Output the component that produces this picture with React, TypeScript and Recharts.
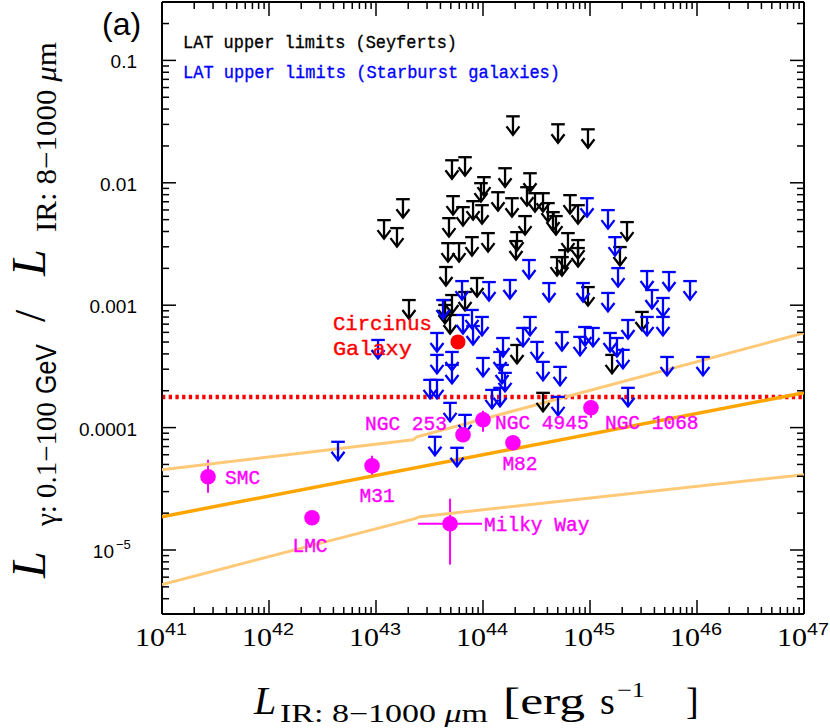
import React from 'react';
import { ScatterChart, Scatter, XAxis, YAxis, ReferenceLine, ErrorBar } from 'recharts';

const W = 830;
const H = 728;

// ---- axes ----
const xDomain: [number, number] = [1e41, 1e47];
const yDomain: [number, number] = [3e-6, 0.3];
const xDecades = [41, 42, 43, 44, 45, 46];
const yDecades = [-6, -5, -4, -3, -2, -1];
const minorSteps = [1, 2, 3, 4, 5, 6, 7, 8, 9];
const yMajorLabels: Record<string, string> = { '-1': '0.1', '-2': '0.01', '-3': '0.001', '-4': '0.0001' };

// ---- LAT upper limits: [log10 L_IR, log10 ratio] ----
const seyferts: [number, number][] = [
  [44.280, -1.457], [44.701, -1.522], [44.981, -1.563], [43.710, -1.816], [43.832, -1.791],
  [44.206, -1.881], [44.439, -1.922], [44.009, -1.954], [43.981, -2.003], [44.411, -2.036],
  [43.252, -2.134], [43.720, -2.109], [43.907, -2.150], [43.813, -2.199], [43.991, -2.183],
  [44.140, -2.077], [44.271, -2.126], [44.486, -2.085], [44.561, -2.085], [44.607, -2.166],
  [44.654, -2.240], [44.682, -2.272], [44.813, -2.101], [44.888, -2.183], [45.346, -2.321],
  [43.075, -2.305], [43.196, -2.370], [43.682, -2.289], [43.673, -2.493], [43.776, -2.493],
  [43.897, -2.444], [44.047, -2.411], [44.318, -2.403], [44.308, -2.476], [44.393, -2.272],
  [44.794, -2.411], [44.888, -2.468], [44.888, -2.533], [44.766, -2.550], [44.692, -2.607],
  [44.738, -2.607], [45.280, -2.525], [43.654, -2.688], [43.944, -2.778], [44.981, -2.852],
  [43.308, -2.958], [43.645, -2.958], [43.710, -2.917], [43.832, -2.892], [43.692, -3.080],
  [43.645, -2.998], [44.318, -3.325], [45.486, -3.055], [45.206, -3.406], [44.561, -3.716],
];

const starbursts: [number, number][] = [
  [44.972, -2.126], [45.168, -2.223], [45.234, -2.444], [45.262, -2.697], [45.533, -2.721],
  [45.738, -2.729], [45.935, -2.803], [44.430, -2.631], [43.804, -2.803], [44.056, -2.811],
  [44.252, -2.794], [44.617, -2.819], [44.935, -2.819], [45.168, -2.900], [45.579, -2.876],
  [45.682, -2.941], [45.682, -3.096], [45.533, -3.096], [45.355, -3.121], [44.439, -3.096],
  [44.374, -3.186], [44.738, -3.219], [44.907, -3.259], [44.953, -3.178], [45.028, -3.186],
  [45.187, -3.227], [45.252, -3.268], [45.308, -3.365], [44.505, -3.300], [44.561, -3.463],
  [44.720, -3.504], [45.720, -3.423], [46.056, -3.423], [44.701, -3.749], [45.355, -3.675],
  [43.626, -2.958], [43.813, -3.080], [43.897, -3.039], [43.991, -3.096], [43.907, -3.170],
  [43.570, -3.227], [43.019, -3.284], [43.710, -3.382], [43.570, -3.406], [43.710, -3.488],
  [44.000, -3.431], [44.187, -3.268], [44.159, -3.382], [44.178, -3.488], [44.206, -3.553],
  [43.505, -3.610], [43.570, -3.610], [44.084, -3.692], [44.159, -3.675], [43.692, -3.798],
  [43.832, -3.896], [43.551, -4.075], [43.757, -4.165], [42.645, -4.116],
];

// ---- detected galaxies (log10 values) ----
const galaxyNames = ['SMC', 'LMC', 'M31', 'Milky Way', 'NGC 253', 'NGC 4945', 'M82', 'NGC 1068'];
const galaxyLogL = [41.430, 42.402, 42.963, 43.692, 43.813, 44.000, 44.280, 45.009];
const galaxyLogR = [-4.401, -4.736, -4.312, -4.785, -4.059, -3.936, -4.124, -3.838];
const galaxyLogRLow = [-4.532, -4.736, -4.409, -5.119, -4.059, -4.034, -4.124, -3.920];
const galaxyLogRHigh = [-4.263, -4.736, -4.230, -4.581, -4.059, -3.863, -4.124, -3.773];
const galaxyLogLLow = [41.430, 42.402, 42.963, 43.393, 43.813, 44.000, 44.280, 45.009];
const galaxyLogLHigh = [41.430, 42.402, 42.963, 43.991, 43.813, 44.000, 44.280, 45.009];

const circinus = { name: 'Circinus Galaxy', logL: 43.766, logR: -3.300 };

// ---- model lines (log10 values) ----
const calorimetricLine: [number, number][] = [[41, -4.728], [47, -3.716]];
const upperBandLine: [number, number][] = [[41, -4.344], [43.346, -4.100], [43.383, -4.075], [47, -3.227]];
const lowerBandLine: [number, number][] = [[41, -5.282], [43.364, -4.744], [43.411, -4.728], [47, -4.385]];
const thresholdLogR = -3.749;

// ---- label placement (relative to point, px) ----
const labelOffsets: Record<string, { dx: number; dy: number; anchor: 'start' | 'middle' | 'end' }> = {
  'SMC': { dx: 17, dy: 7, anchor: 'start' },
  'LMC': { dx: -2, dy: 34, anchor: 'middle' },
  'M31': { dx: 5, dy: 36, anchor: 'middle' },
  'Milky Way': { dx: 34, dy: 7, anchor: 'start' },
  'NGC 253': { dx: -16, dy: -5, anchor: 'end' },
  'NGC 4945': { dx: 12, dy: 9, anchor: 'start' },
  'M82': { dx: 7, dy: 27, anchor: 'middle' },
  'NGC 1068': { dx: 14, dy: 21, anchor: 'start' },
};

// ---- derived ----
const pow = (v: number) => Math.pow(10, v);
const toPts = (arr: [number, number][]) => arr.map(([a, b]) => ({ x: pow(a), y: pow(b) }));
const seyfertData = toPts(seyferts);
const starburstData = toPts(starbursts);
const galaxyData = galaxyNames.map((name, i) => {
  const x = pow(galaxyLogL[i]);
  const y = pow(galaxyLogR[i]);
  return {
    name,
    x,
    y,
    ey: [y - pow(galaxyLogRLow[i]), pow(galaxyLogRHigh[i]) - y],
    ex: [x - pow(galaxyLogLLow[i]), pow(galaxyLogLHigh[i]) - x],
  };
});
const circinusData = [{ name: circinus.name, x: pow(circinus.logL), y: pow(circinus.logR) }];

const xTicks: number[] = [];
xDecades.forEach((e) => minorSteps.forEach((k) => xTicks.push(k * Math.pow(10, e))));
xTicks.push(1e47);
const yTicks: number[] = [];
yDecades.forEach((e) =>
  minorSteps.forEach((k) => {
    const v = k * Math.pow(10, e);
    if (v >= 2.9999e-6 && v <= 0.30001) yTicks.push(v);
  })
);

const isMajor = (v: number) => {
  const lg = Math.log10(v);
  return Math.abs(lg - Math.round(lg)) < 1e-6;
};

const SERIF = 'Liberation Serif, DejaVu Serif, serif';
const SANS = 'Liberation Sans, Arial, sans-serif';
const MONO = 'Liberation Mono, DejaVu Sans Mono, monospace';

function BottomTick(props: any) {
  const { x, y, payload } = props;
  const v = payload.value;
  const major = isMajor(v);
  return (
    <g>
      <line x1={x} y1={y} x2={x} y2={y - (major ? 14 : 7)} stroke="#000" strokeWidth={1.5} />
      {major && (
        <>
          <text x={x - 27} y={y + 32} fontFamily={SERIF} fontSize={26} textLength={30} lengthAdjust="spacingAndGlyphs" fill="#000">10</text>
          <text x={x + 3} y={y + 21} fontFamily={SANS} fontSize={16} textLength={22} lengthAdjust="spacingAndGlyphs" fill="#000">{Math.round(Math.log10(v))}</text>
        </>
      )}
    </g>
  );
}

function TopTick(props: any) {
  const { x, y, payload } = props;
  const major = isMajor(payload.value);
  return <line x1={x} y1={y} x2={x} y2={y + (major ? 14 : 7)} stroke="#000" strokeWidth={1.5} />;
}

function LeftTick(props: any) {
  const { x, y, payload } = props;
  const v = payload.value;
  const major = isMajor(v);
  const e = Math.round(Math.log10(v));
  let label: React.ReactNode = null;
  if (major) {
    if (yMajorLabels[String(e)]) {
      label = (
        <text x={x - 25} y={y + 8} textAnchor="end" fontFamily={SANS} fontSize={19} fill="#000">{yMajorLabels[String(e)]}</text>
      );
    } else {
      label = (
        <>
          <text x={x - 48} y={y + 8} textAnchor="end" fontFamily={SANS} fontSize={19} fill="#000">10</text>
          <text x={x - 46} y={y - 1} textAnchor="start" fontFamily={SANS} fontSize={13} fill="#000">{'\u2212' + String(-e)}</text>
        </>
      );
    }
  }
  return (
    <g>
      <line x1={x} y1={y} x2={x + (major ? 14 : 7)} y2={y} stroke="#000" strokeWidth={1.5} />
      {label}
    </g>
  );
}

function RightTick(props: any) {
  const { x, y, payload } = props;
  const major = isMajor(payload.value);
  return <line x1={x} y1={y} x2={x - (major ? 14 : 7)} y2={y} stroke="#000" strokeWidth={1.5} />;
}

const makeArrow = (color: string) => (props: any) => {
  const { cx, cy } = props;
  if (cx == null || cy == null) return <g />;
  return (
    <g stroke={color} strokeWidth={2.3} fill="none" strokeLinecap="butt">
      <line x1={cx - 6.8} y1={cy} x2={cx + 6.8} y2={cy} />
      <line x1={cx} y1={cy} x2={cx} y2={cy + 18.5} />
      <polyline points={`${cx - 6.5},${cy + 10} ${cx},${cy + 18.5} ${cx + 6.5},${cy + 10}`} />
    </g>
  );
};
const SeyfertArrow = makeArrow('#000000');
const StarburstArrow = makeArrow('#0000ff');

function GalaxyDot(props: any) {
  const { cx, cy, payload } = props;
  const o = labelOffsets[payload.name];
  return (
    <g>
      <circle cx={cx} cy={cy} r={7.8} fill="#ff00ff" />
      <text x={cx + o.dx} y={cy + o.dy} textAnchor={o.anchor} fontFamily={MONO} fontSize={19.5} fill="#ff00ff" stroke="#ff00ff" strokeWidth={0.4}>{payload.name}</text>
    </g>
  );
}

function CircinusDot(props: any) {
  const { cx, cy } = props;
  return (
    <g>
      <circle cx={cx} cy={cy} r={7.5} fill="#ff0000" />
      <text x={cx - 125} y={cy - 12} fontFamily={MONO} fontSize={21} textLength={99} lengthAdjust="spacingAndGlyphs" fill="#ff0000" stroke="#ff0000" strokeWidth={0.4}>Circinus</text>
      <text x={cx - 125} y={cy + 13} fontFamily={MONO} fontSize={21} textLength={79} lengthAdjust="spacingAndGlyphs" fill="#ff0000" stroke="#ff0000" strokeWidth={0.4}>Galaxy</text>
    </g>
  );
}

const NoShape = () => <g />;

export default function App() {
  const common = { xAxisId: 'b', yAxisId: 'l', isAnimationActive: false } as const;
  return (
    <div style={{ position: 'relative', width: W, height: H, background: '#fff' }}>
      <style>{'body{margin:0;background:#fff}'}</style>
      <ScatterChart width={W} height={H} margin={{ top: 0, right: 0, bottom: 0, left: 0 }}>
        <XAxis
          xAxisId="b" type="number" dataKey="x" scale="log" domain={xDomain} allowDataOverflow
          ticks={xTicks} interval={0} tick={BottomTick} tickLine={false} tickSize={0} tickMargin={0}
          height={114} axisLine={{ stroke: '#000', strokeWidth: 2 }}
        />
        <XAxis
          xAxisId="t" orientation="top" type="number" dataKey="x" scale="log" domain={xDomain} allowDataOverflow
          ticks={xTicks} interval={0} tick={TopTick} tickLine={false} tickSize={0} tickMargin={0}
          height={2} axisLine={{ stroke: '#000', strokeWidth: 2 }}
        />
        <YAxis
          yAxisId="l" type="number" dataKey="y" scale="log" domain={yDomain} allowDataOverflow
          ticks={yTicks} interval={0} tick={LeftTick} tickLine={false} tickSize={0} tickMargin={0}
          width={162} axisLine={{ stroke: '#000', strokeWidth: 2 }}
        />
        <YAxis
          yAxisId="r" orientation="right" type="number" dataKey="y" scale="log" domain={yDomain} allowDataOverflow
          ticks={yTicks} interval={0} tick={RightTick} tickLine={false} tickSize={0} tickMargin={0}
          width={26} axisLine={{ stroke: '#000', strokeWidth: 2 }}
        />
        <Scatter xAxisId="t" yAxisId="r" data={[{ x: 1e44, y: 1e-3 }]} shape={NoShape} isAnimationActive={false} />

        <Scatter {...common} data={toPts(upperBandLine)} shape={NoShape} line={{ stroke: '#ffc978', strokeWidth: 3 }} stroke="#ffc978" lineType="joint" />
        <Scatter {...common} data={toPts(lowerBandLine)} shape={NoShape} line={{ stroke: '#ffc978', strokeWidth: 3 }} stroke="#ffc978" lineType="joint" />
        <Scatter {...common} data={toPts(calorimetricLine)} shape={NoShape} line={{ stroke: '#ffa500', strokeWidth: 3.5 }} stroke="#ffa500" lineType="joint" />

        <Scatter {...common} data={seyfertData} shape={SeyfertArrow} />
        <Scatter {...common} data={starburstData} shape={StarburstArrow} />

        <ReferenceLine xAxisId="b" yAxisId="l" y={pow(thresholdLogR)} stroke="#ff0000" strokeWidth={4.5} strokeDasharray="3.3 3.4" />

        <Scatter {...common} data={galaxyData} shape={GalaxyDot}>
          <ErrorBar dataKey="ey" direction="y" width={0} stroke="#ff00ff" strokeWidth={2} />
          <ErrorBar dataKey="ex" direction="x" width={0} stroke="#ff00ff" strokeWidth={2} />
        </Scatter>
        <Scatter {...common} data={circinusData} shape={CircinusDot} />
      </ScatterChart>

      <svg width={W} height={H} style={{ position: 'absolute', left: 0, top: 0, pointerEvents: 'none' }}>
        <text x={102} y={35} fontFamily={SANS} fontSize={32} fill="#000">(a)</text>
        <text x={183} y={48} fontFamily={MONO} fontSize={19} textLength={274} lengthAdjust="spacingAndGlyphs" fill="#000" stroke="#000" strokeWidth={0.35}>LAT upper limits (Seyferts)</text>
        <text x={183} y={78} fontFamily={MONO} fontSize={19} textLength={377} lengthAdjust="spacingAndGlyphs" fill="#0000ff" stroke="#0000ff" strokeWidth={0.35}>LAT upper limits (Starburst galaxies)</text>

        {/* x-axis title */}
        <text x={254} y={714} fontFamily={SERIF} fontStyle="italic" fontSize={40} fill="#000">L</text>
        <text x={280} y={722} fontFamily={SERIF} fontSize={25} textLength={208} lengthAdjust="spacingAndGlyphs" fill="#000">
          IR: 8{'\u2212'}1000 <tspan fontStyle="italic">{'\u03bc'}</tspan>m
        </text>
        <text x={503} y={714} fontFamily={SERIF} fontSize={38} textLength={82} lengthAdjust="spacingAndGlyphs" fill="#000">[erg</text>
        <text x={600} y={714} fontFamily={SERIF} fontSize={38} fill="#000">s</text>
        <text x={617} y={697} fontFamily={SERIF} fontSize={21} textLength={28} lengthAdjust="spacingAndGlyphs" fill="#000">{'\u2212'}1</text>
        <text x={686} y={714} fontFamily={SERIF} fontSize={38} fill="#000">]</text>

        {/* y-axis title */}
        <g transform="translate(45,578) rotate(-90)">
          <text x={0} y={0} fontFamily={SERIF} fontStyle="italic" fontSize={48} fill="#000">L</text>
          <text x={52} y={11} fontFamily={SERIF} fontSize={29} textLength={124} lengthAdjust="spacingAndGlyphs" fill="#000">{'\u03b3: 0.1\u2212100'}</text>
          <text x={184} y={11} fontFamily={SANS} fontSize={29} textLength={50} lengthAdjust="spacingAndGlyphs" fill="#000">GeV</text>
          <text x={256} y={0} fontFamily={SERIF} fontSize={44} fill="#000">/</text>
          <text x={302} y={0} fontFamily={SERIF} fontStyle="italic" fontSize={48} fill="#000">L</text>
          <text x={346} y={11} fontFamily={SERIF} fontSize={29} textLength={190} lengthAdjust="spacingAndGlyphs" fill="#000">
            IR: 8{'\u2212'}1000 <tspan fontStyle="italic">{'\u03bc'}</tspan>m
          </text>
        </g>
      </svg>
    </div>
  );
}
